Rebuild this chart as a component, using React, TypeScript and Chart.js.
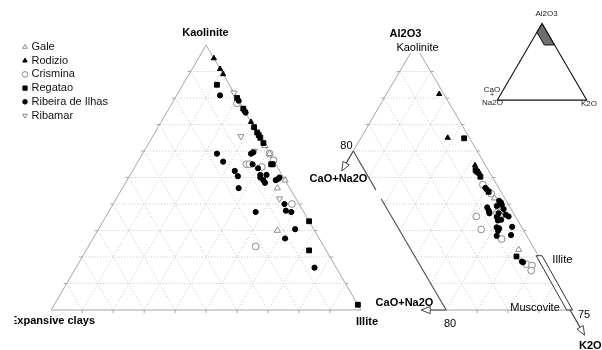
import React, { useEffect, useRef } from 'react';
import { Chart, registerables } from 'chart.js';

Chart.register(...registerables);

// ---------------- DATA ----------------
const seriesNames = ['Gale', 'Rodizio', 'Crismina', 'Regatao', 'Ribeira de Ilhas', 'Ribamar'];

// Left diagram: [Kaolinite, Illite, Expansive clays] (%)
const galeLeft = [[59, 41, 0], [62, 38, 0], [49, 51, 0], [46, 50, 4], [30, 58, 12]];
const rodizioLeft = [[95, 5, 0], [91, 9, 0], [89, 11, 0], [71, 29, 0]];
const crisminaLeft = [[78, 21, 1], [55, 35.5, 9.5], [55, 36.5, 8.5], [54, 41, 5], [56.5, 43.5, 0], [59, 41, 0], [40, 57.7, 2.3], [24, 54, 22]];
const regataoLeft = [[85, 11, 4], [80, 20, 0], [76, 24, 0], [69, 31, 0], [67, 33, 0], [66, 34, 0], [65, 35, 0], [63, 37, 0], [55, 43.5, 1.5], [55, 44, 1], [33.5, 66.5, 0], [22.5, 72, 5.5], [2, 98, 0]];
const ribeiraLeft = [[81, 14, 5], [79, 21, 0], [75, 25, 0], [74.5, 25.5, 0], [59, 24, 17], [59, 35, 6], [59.5, 35.5, 5], [55, 37.5, 7.5], [56, 27.5, 16.5], [52.5, 33, 14.5], [50.5, 35, 14.5], [46, 37.5, 16.5], [53.5, 40, 6.5], [51, 42, 7], [50, 42.5, 7.5], [51, 44, 5], [49, 44, 7], [48, 45, 7], [49, 48, 3], [49.5, 48.5, 2], [50, 48.7, 1.3], [40, 55.3, 4.7], [37.5, 57, 5.5], [37, 59, 4], [37, 47.5, 15.5], [30.5, 63.5, 6], [27, 62, 11], [16, 77, 7]];
const ribamarLeft = [[82, 18, 0], [65.5, 28.5, 6], [60, 35.5, 4.5], [42, 52.7, 5.3]];

// Right diagram (enlarged A-CN-K): plotted shares [Al2O3, K2O, CaO+Na2O] (%)
const galeRight = [[42.2, 54.5, 3.3], [38.5, 57.4, 4.1], [35.7, 60, 4.3], [22.8, 72, 5.2]];
const rodizioRight = [[81.5, 17, 1.5], [65, 28, 7], [54.6, 42, 3.4]];
const crisminaRight = [[47.3, 48.2, 4.5], [43.9, 52.6, 3.5], [35.3, 52.1, 12.6], [30.4, 56.1, 13.5], [26.8, 64.5, 8.7], [17.3, 77.2, 5.5], [16.8, 79.3, 3.9], [14.9, 80, 5.1]];
const regataoRight = [[64.8, 33.4, 1.8], [52.8, 43.1, 4.1], [52.2, 43.9, 3.9], [50.3, 45.9, 3.8], [44.6, 51.4, 4], [20.2, 72.6, 7.2]];
const ribeiraRight = [[51.6, 44.7, 3.7], [46.1, 49.6, 4.3], [45.5, 50.4, 4.1], [41.2, 56.5, 2.3], [40.6, 57.4, 2], [39.7, 58.1, 2.2], [39.3, 56.7, 4], [38.7, 53.9, 7.4], [37.5, 55, 7.5], [36.5, 55.7, 7.8], [38.1, 59.5, 2.4], [36, 61.2, 2.8], [35.3, 62.5, 2.2], [36.5, 58.7, 4.8], [35.1, 58.8, 6.1], [33.8, 59.8, 6.4], [34.1, 60.7, 5.2], [31.4, 65.6, 3], [31.2, 60.7, 8.1], [30.8, 61.7, 7.5], [29.9, 61.8, 8.3], [28, 62.3, 9.7], [28.3, 66.8, 4.9], [18.3, 75.3, 6.4], [18, 75.8, 6.2]];
const ribamarRight = [[36.4, 57.8, 5.8]];

const gridSteps = [10, 20, 30, 40, 50, 60, 70, 80, 90];
const rightClipCN = 40; // right diagram drawn only where CaO+Na2O <= 40 (plot %)
const insetShade = [[100, 0, 0], [88.5, 0, 11.5], [72, 16.5, 11.5], [72, 28, 0]]; // [Al2O3, K2O, CaO+Na2O]
const illiteBand = [[20.5, 78.8], [20.5, 80.7], [0, 100.8], [0, 98.9]]; // [Al2O3, K2O]

const leftSets = [galeLeft, rodizioLeft, crisminaLeft, regataoLeft, ribeiraLeft, ribamarLeft];
const rightSets = [galeRight, rodizioRight, crisminaRight, regataoRight, ribeiraRight, ribamarRight];

// ---------------- GEOMETRY / STYLE ----------------
const H = Math.sqrt(3) / 2;
const PX = 3.15; // pixels per unit
const X_MIN = -47 / PX;
const X_MAX = X_MIN + 602 / PX;
const Y_MIN = -36 / PX;
const Y_MAX = Y_MIN + 350 / PX;
const RX0 = 67.5;
const INSET = { x0: 144, y0: 68.6, side: 28.9 };

const toLeft = (p: number[]) => ({ x: p[1] + p[0] / 2, y: p[0] * H });
const toRight = (p: number[]) => ({ x: RX0 + p[1] + p[0] / 2, y: p[0] * H });
const toInset = (a: number, k: number) => ({
  x: INSET.x0 + (INSET.side * (k + a / 2)) / 100,
  y: INSET.y0 + (INSET.side * a * H) / 100,
});

const GRAY = '#8c8c8c';
const styles = [
  { shape: 'triangle', rot: 0, r: 3.6, lr: 2.6, fill: '#ffffff', stroke: GRAY },
  { shape: 'triangle', rot: 0, r: 3, lr: 2.6, fill: '#000000', stroke: '#000000' },
  { shape: 'circle', rot: 0, r: 3.4, lr: 2.8, fill: '#ffffff', stroke: GRAY },
  { shape: 'rect', rot: 0, r: 3.4, lr: 3, fill: '#000000', stroke: '#000000' },
  { shape: 'circle', rot: 0, r: 2.6, lr: 2.3, fill: '#000000', stroke: '#000000' },
  { shape: 'triangle', rot: 180, r: 3.6, lr: 2.6, fill: '#ffffff', stroke: GRAY },
];

const FONT = '"Liberation Sans", Arial, sans-serif';

function drawMarker(ctx: CanvasRenderingContext2D, st: any, x: number, y: number, r: number) {
  ctx.save();
  ctx.beginPath();
  if (st.shape === 'circle') {
    ctx.arc(x, y, r, 0, Math.PI * 2);
  } else if (st.shape === 'rect') {
    const s = r * Math.SQRT1_2;
    ctx.rect(x - s, y - s, 2 * s, 2 * s);
  } else {
    const d = st.rot === 180 ? -1 : 1;
    ctx.moveTo(x, y - d * r);
    ctx.lineTo(x + r * H, y + d * r * 0.5);
    ctx.lineTo(x - r * H, y + d * r * 0.5);
    ctx.closePath();
  }
  ctx.fillStyle = st.fill;
  ctx.fill();
  ctx.lineWidth = 1;
  ctx.strokeStyle = st.stroke;
  ctx.stroke();
  ctx.restore();
}

const ternaryPlugin = {
  id: 'ternaryFrame',
  beforeDraw(chart: any) {
    const ctx = chart.ctx as CanvasRenderingContext2D;
    ctx.save();
    ctx.fillStyle = '#ffffff';
    ctx.fillRect(0, 0, chart.width, chart.height);
    ctx.restore();
  },
  beforeDatasetsDraw(chart: any) {
    const ctx = chart.ctx as CanvasRenderingContext2D;
    const xs = chart.scales.x;
    const ys = chart.scales.y;
    const P = (p: { x: number; y: number }) => [xs.getPixelForValue(p.x), ys.getPixelForValue(p.y)];
    const L = (k: number, i: number) => P(toLeft([k, i]));
    const R = (a: number, k: number) => P(toRight([a, k]));
    const I = (a: number, k: number) => P(toInset(a, k));

    const seg = (a: number[], b: number[], color: string, width = 1, dash: number[] = []) => {
      ctx.save();
      ctx.beginPath();
      ctx.setLineDash(dash);
      ctx.strokeStyle = color;
      ctx.lineWidth = width;
      ctx.moveTo(a[0], a[1]);
      ctx.lineTo(b[0], b[1]);
      ctx.stroke();
      ctx.restore();
    };
    const poly = (pts: number[][], stroke: string, fill: string | null, width = 1) => {
      ctx.save();
      ctx.beginPath();
      pts.forEach((p, idx) => (idx ? ctx.lineTo(p[0], p[1]) : ctx.moveTo(p[0], p[1])));
      ctx.closePath();
      if (fill) {
        ctx.fillStyle = fill;
        ctx.fill();
      }
      ctx.strokeStyle = stroke;
      ctx.lineWidth = width;
      ctx.stroke();
      ctx.restore();
    };
    const arrow = (start: number[], dx: number, dy: number, len: number) => {
      const head = 9;
      const hw = 3.6;
      const bx = start[0] + dx * (len - head);
      const by = start[1] + dy * (len - head);
      const tx = start[0] + dx * len;
      const ty = start[1] + dy * len;
      seg(start, [bx, by], '#444', 1.2);
      poly(
        [
          [tx, ty],
          [bx - dy * hw, by + dx * hw],
          [bx + dy * hw, by - dx * hw],
        ],
        '#444',
        '#ffffff',
        1
      );
    };
    const text = (s: string, x: number, y: number, font: string, align: CanvasTextAlign = 'center', color = '#000') => {
      ctx.save();
      ctx.font = font;
      ctx.fillStyle = color;
      ctx.textAlign = align;
      ctx.textBaseline = 'middle';
      ctx.fillText(s, x, y);
      ctx.restore();
    };

    const GRID = '#c4c4c4';
    const DOT = [1, 2];
    const EDGE = '#a6a6a6';

    // ---- Left triangle grid ----
    gridSteps.forEach((v) => {
      seg(L(v, 0), L(v, 100 - v), GRID, 1, DOT);
      seg(L(0, v), L(100 - v, v), GRID, 1, DOT);
      seg(L(0, 100 - v), L(100 - v, 0), GRID, 1, DOT);
    });
    poly([L(100, 0), L(0, 0), L(0, 100)], EDGE, null, 1);
    gridSteps.forEach((v) => {
      const b = L(0, v);
      seg(b, [b[0], b[1] + 3], EDGE);
      const l = L(v, 0);
      seg(l, [l[0] - 3, l[1]], EDGE);
      const r = L(v, 100 - v);
      seg(r, [r[0] + 3, r[1]], EDGE);
    });

    // ---- Right triangle grid (clipped where CaO+Na2O <= 40) ----
    gridSteps.forEach((v) => {
      const cnA = Math.min(rightClipCN, 100 - v);
      seg(R(v, 100 - v - cnA), R(v, 100 - v), GRID, 1, DOT);
      const aStart = Math.max(100 - rightClipCN - v, 0);
      seg(R(aStart, v), R(100 - v, v), GRID, 1, DOT);
      if (v < rightClipCN) seg(R(0, 100 - v), R(100 - v, 0), GRID, 1, DOT);
    });
    const top = 100 - rightClipCN;
    seg(R(100, 0), R(top, 0), EDGE);
    seg(R(0, top), R(0, 100), EDGE);
    seg(R(0, 100), R(100, 0), EDGE);
    // dark boundary CaO+Na2O = 40 with a small break
    const cp = (t: number) => R(top * (1 - t), top * t);
    seg(cp(0), cp(0.244), '#555', 1.2);
    seg(cp(0.3), cp(1), '#555', 1.2);
    gridSteps.forEach((v) => {
      const r = R(v, 100 - v);
      seg(r, [r[0] + 3, r[1]], EDGE);
      if (v > top) {
        const l = R(v, 0);
        seg(l, [l[0] - 3, l[1]], EDGE);
      }
      if (v > top) {
        const b = R(0, v);
        seg(b, [b[0], b[1] + 3], EDGE);
      }
    });

    // Illite band
    poly(illiteBand.map(([a, k]) => R(a, k)), '#333', '#ffffff', 1);

    // arrows
    arrow(R(top, 0), -0.5, H, 23);
    arrow(R(0, top), -1, 0, 25);
    arrow(R(0, 100), 0.5, H, 29);

    // ---- Inset ----
    poly(insetShade.map(([a, k]) => I(a, k)), '#111', '#6e6e6e', 1);
    poly([I(100, 0), I(0, 0), I(0, 100)], '#111', null, 1.1);

    // ---- Labels ----
    const B = `bold 11px ${FONT}`;
    const Rg = `11px ${FONT}`;
    text('Kaolinite', 205.5, 33, B);
    ctx.save();
    ctx.beginPath();
    ctx.rect(14.5, 305, 200, 35);
    ctx.clip();
    text('Expansive clays', 95, 321, B, 'right');
    ctx.restore();
    text('Illite', 356, 322, B, 'left');

    text('Al2O3', 405.5, 33.5, B);
    ctx.save();
    ctx.fillStyle = '#fff';
    ctx.fillRect(395, 42, 46, 11);
    ctx.restore();
    text('Kaolinite', 417.5, 48, Rg);
    text('80', 352.5, 145.5, Rg, 'right');
    text('CaO+Na2O', 338.5, 179, B);
    text('CaO+Na2O', 404.5, 303, B);
    text('80', 450, 323.5, Rg);
    text('Muscovite', 535, 308, Rg);
    text('Illite', 562.5, 260, `11.5px ${FONT}`);
    text('75', 578, 315, Rg, 'left');
    text('K2O', 579, 346, B, 'left');

    const S = `8px ${FONT}`;
    text('Al2O3', 546.5, 13.5, S, 'center', '#222');
    text('CaO', 492, 89.5, S, 'center', '#222');
    text('+', 492, 95.5, `7px ${FONT}`, 'center', '#222');
    text('Na2O', 492.5, 103, S, 'center', '#222');
    text('K2O', 589, 104, S, 'center', '#222');

    // ---- Legend ----
    seriesNames.forEach((name, s) => {
      const y = 47 + s * 13.7;
      drawMarker(ctx, styles[s], 25, y, styles[s].lr);
      text(name, 31.5, y, Rg, 'left', '#111');
    });
  },
};

export default function App() {
  const ref = useRef<HTMLCanvasElement | null>(null);
  useEffect(() => {
    if (!ref.current) return;
    const datasets = seriesNames.map((name, s) => {
      const st = styles[s];
      return {
        label: name,
        data: [...leftSets[s].map(toLeft), ...rightSets[s].map(toRight)],
        showLine: false,
        pointStyle: st.shape,
        pointRotation: st.rot,
        pointRadius: st.r,
        pointBackgroundColor: st.fill,
        pointBorderColor: st.stroke,
        pointBorderWidth: 1,
        clip: false,
        order: st.fill === '#000000' ? 1 : 2,
      };
    });
    const chart = new Chart(ref.current, {
      type: 'scatter',
      data: { datasets: datasets as any },
      options: {
        responsive: false,
        animation: false,
        devicePixelRatio: 1,
        events: [],
        layout: { padding: 0 },
        scales: {
          x: { type: 'linear', display: false, min: X_MIN, max: X_MAX },
          y: { type: 'linear', display: false, min: Y_MIN, max: Y_MAX },
        },
        plugins: { legend: { display: false }, tooltip: { enabled: false } },
      },
      plugins: [ternaryPlugin as any],
    });
    return () => chart.destroy();
  }, []);
  return (
    <div style={{ position: 'fixed', left: 0, top: 0, width: 602, height: 350, background: '#fff' }}>
      <canvas ref={ref} width={602} height={350} style={{ display: 'block' }} />
    </div>
  );
}
